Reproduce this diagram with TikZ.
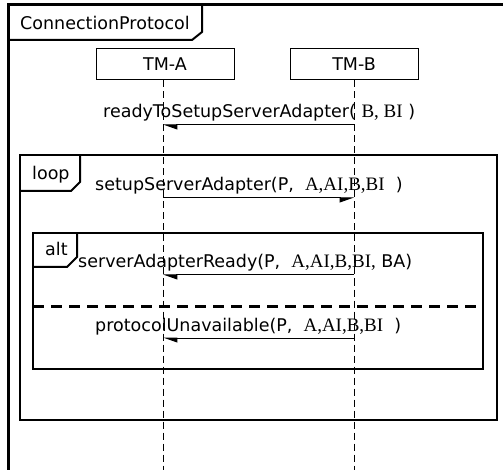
\documentclass[tikz,border=0pt]{standalone}
\usepackage{fontspec}
\setmainfont{DejaVu Sans}
\newfontfamily\argfont{Liberation Serif}
\usetikzlibrary{arrows.meta, positioning}

\newcommand{\args}[1]{{\argfont\fontsize{19}{20}\selectfont #1}}

\tikzset{
  head/.style={draw, line width=1pt, minimum height=31pt, inner sep=0pt},
  life/.style={line width=1pt, dash pattern=on 7pt off 4pt},
  msgl/.style={line width=1pt, -{Triangle[harpoon, length=13pt, width=9pt]}},
  msgr/.style={line width=1pt, -{Triangle[harpoon, swap, length=13pt, width=9pt]}},
  frag/.style={line width=2.7pt},
  tab/.style={line width=2pt},
  lbl/.style={font=\fontsize{17.5}{20}\selectfont, inner sep=0pt},
}

\begin{document}
\begin{tikzpicture}[x=1pt, y=-1pt]
\clip (0,0) rectangle (503,470);
\fill[white] (0,0) rectangle (503,470);

% outer frame
\draw[line width=3pt] (8,5) rectangle (510,480);
\draw[tab] (8,40) -- (192,40) -- (202,32) -- (202,5);
\node[lbl, anchor=base west] (title) at (20,30) {ConnectionProtocol};

% lifelines
\node[head, lbl, minimum width=138pt] (tma) at (165,64.5) {TM-A};
\node[head, lbl, minimum width=128pt] (tmb) at (354,64.5) {TM-B};
\coordinate (la) at (163,470);
\coordinate (lb) at (354,470);
\draw[life] (tma.south -| la) -- (la);
\draw[life] (tmb.south) -- (lb);

% fragments
\draw[frag] (20,155) rectangle (497,420);
\draw[tab] (20,191) -- (71,191) -- (80,182) -- (80,155);
\node[lbl, anchor=base west] (loop) at (32,180) {loop};

\draw[frag] (33,233) rectangle (483,369);
\draw[tab] (33,267) -- (67,267) -- (77,257) -- (77,233);
\node[lbl, anchor=base west] (alt) at (45,256) {alt};
\draw[line width=3pt, dash pattern=on 11pt off 7pt] (33,306) -- (483,306);

% messages
\foreach \n/\y in {1/125, 2/198, 3/275, 4/338} {
  \coordinate (a\n) at (163,\y);
  \coordinate (b\n) at (354,\y);
}
\node[lbl, anchor=base west] (m1) at (103,118) {readyToSetupServerAdapter( \args{B, BI} )};
\draw[msgl] (b1) -- (a1);
\node[lbl, anchor=base west] (m2) at (95,191) {setupServerAdapter(P, \ \args{A,AI,B,BI} \ )};
\draw[msgr] (a2) -- (b2);
\node[lbl, anchor=base west] (m3) at (78,268) {serverAdapterReady(P, \ \args{A,AI,B,BI,} BA)};
\draw[msgl] (b3) -- (a3);
\node[lbl, anchor=base west] (m4) at (95,331) {protocolUnavailable(P, \ \args{A,AI,B,BI} \ )};
\draw[msgl] (b4) -- (a4);
\end{tikzpicture}
\end{document}
